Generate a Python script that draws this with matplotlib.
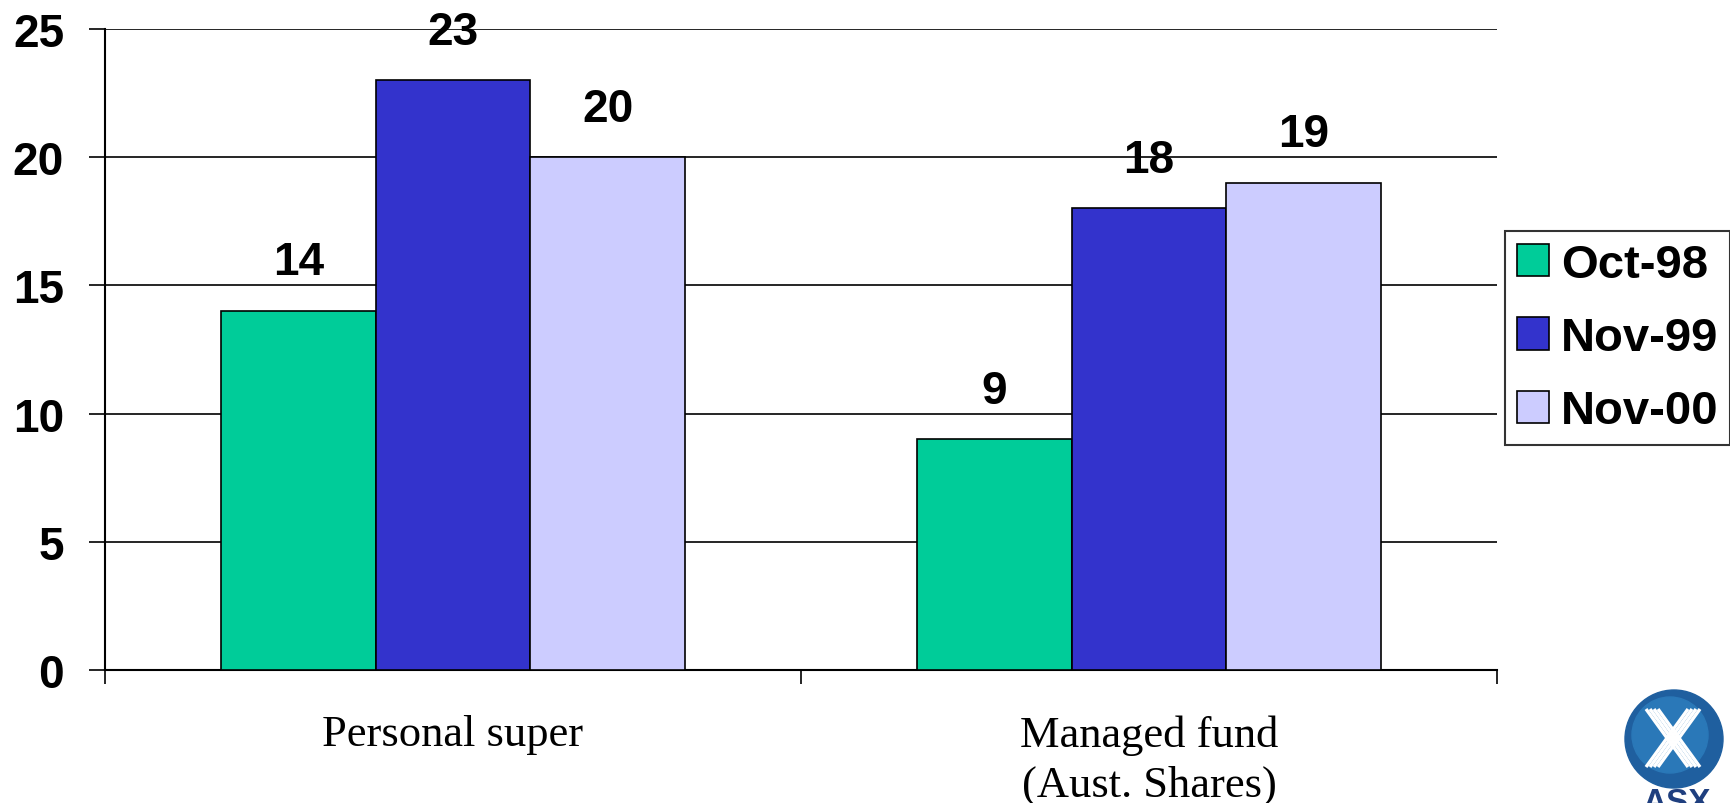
import matplotlib
matplotlib.use("Agg")
import matplotlib.pyplot as plt
from matplotlib.patches import Circle
import numpy as np

# chart data
categories = ["Personal super", "Managed fund\n(Aust. Shares)"]
series = ["Oct-98", "Nov-99", "Nov-00"]
oct98 = [14, 9]
nov99 = [23, 18]
nov00 = [20, 19]
yticks = [0, 5, 10, 15, 20, 25]

colors = ["#00CC99", "#3333CC", "#CCCCFF"]
W, H = 1731, 804

fig = plt.figure(figsize=(W / 100, H / 100), dpi=100)
ax = fig.add_axes([105 / W, 1 - 671 / H, (1497 - 105) / W, (671 - 30) / H])

x = np.arange(len(categories))
width = 1 / 4.5
for i, (name, vals) in enumerate(zip(series, [oct98, nov99, nov00])):
    pos = x + (i - 1) * width
    bars = ax.bar(pos, vals, width, color=colors[i], edgecolor="black",
                  linewidth=1.2, label=name, zorder=3)
    for b, v in zip(bars, vals):
        ax.annotate(str(v), (b.get_x() + b.get_width() / 2, v),
                    xytext=(0, 35), textcoords="offset points",
                    ha="center", va="center", fontsize=33,
                    fontweight="bold", family="Liberation Sans", zorder=4)

ax.set_xlim(-0.5, len(categories) - 0.5)
ax.set_ylim(0, 25)
ax.set_yticks(yticks)
ax.set_yticklabels([str(t) for t in yticks], fontsize=33, fontweight="bold",
                   family="Liberation Sans")
ax.yaxis.grid(True, color="black", linewidth=1.2, zorder=0)
ax.set_axisbelow(True)

# category boundaries carry the ticks, labels sit at the centres
ax.set_xticks([-0.5, 0.5, 1.5])
ax.set_xticklabels([])
ax.set_xticks(x, categories, minor=True)
for lab in ax.get_xticklabels(minor=True):
    lab.set_fontsize(32)
    lab.set_family("Liberation Serif")
    lab.set_linespacing(1.3)
ax.tick_params(axis="x", which="minor", length=0, pad=32)
ax.tick_params(axis="x", which="major", length=10, width=1.2, direction="out")
ax.tick_params(axis="y", length=11.5, width=1.2, pad=18)

for s in ["top", "right"]:
    ax.spines[s].set_visible(False)
for s in ["left", "bottom"]:
    ax.spines[s].set_linewidth(1.5)

leg = fig.legend(loc="upper left", bbox_to_anchor=(1505 / W, 1 - 232 / H),
                 borderaxespad=0, prop={"family": "Liberation Sans",
                                        "weight": "bold", "size": 34},
                 frameon=True, fancybox=False, edgecolor="black",
                 handlelength=0.68, handleheight=0.68, handletextpad=0.25,
                 labelspacing=0.62, borderpad=0.25)
leg.get_frame().set_linewidth(1.5)

# ASX logo in the corner
lx = fig.add_axes([1610 / W, 0, 121 / W, 120 / H])
lx.set_xlim(0, 121)
lx.set_ylim(0, 120)
lx.set_aspect("equal")
lx.axis("off")
lx.add_patch(Circle((64, 64), 49, color="#1f5f9f"))
lx.add_patch(Circle((60, 68), 38, color="#2a78b8"))
for dx in (-6, -2, 2, 6):
    lx.plot([42 + dx, 84 + dx], [94, 36], color="white", lw=2.4, solid_capstyle="butt")
    lx.plot([84 + dx, 42 + dx], [94, 36], color="white", lw=2.4, solid_capstyle="butt")
lx.text(66, 0, "ASX", ha="center", va="center", fontsize=24, fontweight="bold",
        color="#1f3f7f", family="Liberation Sans")

fig.savefig("out.png", dpi=100)
